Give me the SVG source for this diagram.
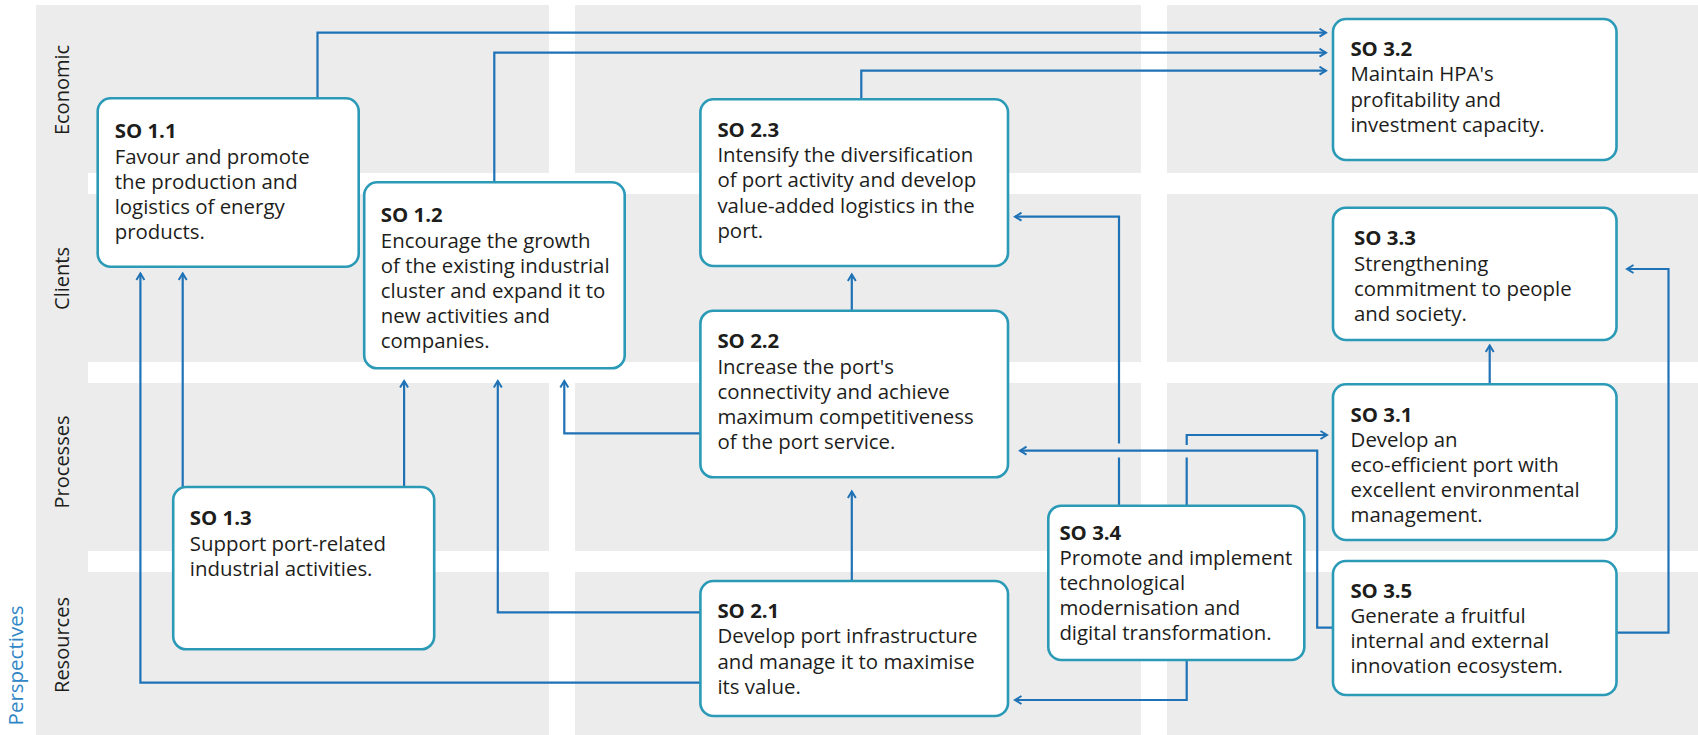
<svg xmlns="http://www.w3.org/2000/svg" width="1698" height="735" viewBox="0 0 1698 735">
<style>
.bg{fill:#ececec}
.gap{fill:#ffffff}
.box{fill:#ffffff;stroke:#2a9ab7;stroke-width:2.6}
.t{font-family:"Open Sans","Noto Sans",sans-serif;font-size:20.4px;fill:#1d1d1b}
.h{font-weight:700}
.lab{font-family:"Open Sans","Noto Sans",sans-serif;font-size:20px;fill:#1d1d1b;text-anchor:middle}
.persp{font-family:"Open Sans","Noto Sans",sans-serif;font-size:20.5px;fill:#2f86c6;text-anchor:middle}
.c{fill:none;stroke:#1f72b6;stroke-width:2.2}
.a{marker-end:url(#arr)}
</style>
<defs>
<marker id="arr" markerUnits="userSpaceOnUse" markerWidth="12" markerHeight="12" viewBox="0 0 12 12" refX="8" refY="5" orient="auto">
<path d="M1.5,1 L8,5 L1.5,9" fill="none" stroke="#1f72b6" stroke-width="2"/>
</marker>
</defs>
<g id="background">
<rect class="bg" x="36" y="5" width="513" height="730"/>
<rect class="bg" x="575" y="5" width="566" height="730"/>
<rect class="bg" x="1167" y="5" width="531" height="730"/>
<rect class="gap" x="88" y="173" width="1610" height="21"/>
<rect class="gap" x="88" y="362" width="1610" height="21"/>
<rect class="gap" x="88" y="551" width="1610" height="21"/>
</g>
<g id="labels">
<text class="persp" transform="translate(23,665.5) rotate(-90)">Perspectives</text>
<text class="lab" transform="translate(69,90) rotate(-90)">Economic</text>
<text class="lab" transform="translate(69,278.5) rotate(-90)">Clients</text>
<text class="lab" transform="translate(69,462) rotate(-90)">Processes</text>
<text class="lab" transform="translate(69,645) rotate(-90)">Resources</text>
</g>
<g id="connectors">
<path class="c a" d="M317.5,98.3 V32.7 H1326"/>
<path class="c a" d="M494.3,182.3 V52.7 H1326"/>
<path class="c a" d="M861.3,99.3 V70.7 H1326"/>
<path class="c a" d="M182.7,487 V273.5"/>
<path class="c a" d="M700.4,682.7 H140.4 V273.5"/>
<path class="c a" d="M404.1,487 V381"/>
<path class="c a" d="M700.4,612.3 H497.8 V381"/>
<path class="c a" d="M700.4,433.3 H564.3 V381"/>
<path class="c a" d="M851.8,310.7 V274.5"/>
<path class="c a" d="M851.8,581 V491.5"/>
<path class="c" d="M1119,505.7 V457.5"/>
<path class="c a" d="M1119,443.5 V216.7 H1015"/>
<path class="c a" d="M1333,627.7 H1317.2 V450.7 H1020"/>
<path class="c" d="M1186.7,505.7 V457.5"/>
<path class="c a" d="M1186.7,445 V435 H1327"/>
<path class="c a" d="M1186.7,660 V700 H1015"/>
<path class="c a" d="M1489.7,384.3 V345.5"/>
<path class="c a" d="M1616.5,632.7 H1668.5 V269 H1627"/>
</g>
<g id="so11">
<rect class="box" x="97.7" y="98.3" width="261" height="168.4" rx="13"/>
<text class="t h" x="114.7" y="137.5">SO 1.1</text>
<text class="t" x="114.7" y="164">Favour and promote</text>
<text class="t" x="114.7" y="189">the production and</text>
<text class="t" x="114.7" y="214">logistics of energy</text>
<text class="t" x="114.7" y="239">products.</text>
</g>
<g id="so12">
<rect class="box" x="364.2" y="182.3" width="260.5" height="186" rx="13"/>
<text class="t h" x="380.8" y="221.7">SO 1.2</text>
<text class="t" x="380.8" y="248.3">Encourage the growth</text>
<text class="t" x="380.8" y="273.3">of the existing industrial</text>
<text class="t" x="380.8" y="298.3">cluster and expand it to</text>
<text class="t" x="380.8" y="323.3">new activities and</text>
<text class="t" x="380.8" y="348.3">companies.</text>
</g>
<g id="so13">
<rect class="box" x="173.2" y="487" width="261" height="162.3" rx="13"/>
<text class="t h" x="189.8" y="525">SO 1.3</text>
<text class="t" x="189.8" y="550.7">Support port-related</text>
<text class="t" x="189.8" y="575.5">industrial activities.</text>
</g>
<g id="so23">
<rect class="box" x="700.4" y="99.3" width="307.6" height="166.7" rx="13"/>
<text class="t h" x="717.4" y="136.7">SO 2.3</text>
<text class="t" x="717.4" y="162.3">Intensify the diversification</text>
<text class="t" x="717.4" y="187.3">of port activity and develop</text>
<text class="t" x="717.4" y="212.7">value-added logistics in the</text>
<text class="t" x="717.4" y="237.7">port.</text>
</g>
<g id="so22">
<rect class="box" x="700.4" y="310.7" width="307.6" height="166.6" rx="13"/>
<text class="t h" x="717.4" y="347.7">SO 2.2</text>
<text class="t" x="717.4" y="373.5">Increase the port's</text>
<text class="t" x="717.4" y="398.5">connectivity and achieve</text>
<text class="t" x="717.4" y="423.5">maximum competitiveness</text>
<text class="t" x="717.4" y="448.5">of the port service.</text>
</g>
<g id="so21">
<rect class="box" x="700.4" y="581" width="307.6" height="135" rx="13"/>
<text class="t h" x="717.4" y="618.3">SO 2.1</text>
<text class="t" x="717.4" y="643.3">Develop port infrastructure</text>
<text class="t" x="717.4" y="669">and manage it to maximise</text>
<text class="t" x="717.4" y="694.3">its value.</text>
</g>
<g id="so34">
<rect class="box" x="1048.3" y="505.7" width="256" height="154.3" rx="13"/>
<text class="t h" x="1059.4" y="540">SO 3.4</text>
<text class="t" x="1059.4" y="565">Promote and implement</text>
<text class="t" x="1059.4" y="590">technological</text>
<text class="t" x="1059.4" y="615">modernisation and</text>
<text class="t" x="1059.4" y="640">digital transformation.</text>
</g>
<g id="so32">
<rect class="box" x="1333" y="19" width="283.5" height="141" rx="13"/>
<text class="t h" x="1350.4" y="56">SO 3.2</text>
<text class="t" x="1350.4" y="81">Maintain HPA's</text>
<text class="t" x="1350.4" y="106.5">profitability and</text>
<text class="t" x="1350.4" y="132">investment capacity.</text>
</g>
<g id="so33">
<rect class="box" x="1333" y="207.7" width="283.5" height="132.3" rx="13"/>
<text class="t h" x="1354" y="245">SO 3.3</text>
<text class="t" x="1354" y="270.7">Strengthening</text>
<text class="t" x="1354" y="296">commitment to people</text>
<text class="t" x="1354" y="321">and society.</text>
</g>
<g id="so31">
<rect class="box" x="1333" y="384.3" width="283.5" height="155.7" rx="13"/>
<text class="t h" x="1350.6" y="421.5">SO 3.1</text>
<text class="t" x="1350.6" y="447">Develop an</text>
<text class="t" x="1350.6" y="472">eco-efficient port with</text>
<text class="t" x="1350.6" y="497">excellent environmental</text>
<text class="t" x="1350.6" y="522">management.</text>
</g>
<g id="so35">
<rect class="box" x="1333" y="561" width="283.5" height="134" rx="13"/>
<text class="t h" x="1350.4" y="597.7">SO 3.5</text>
<text class="t" x="1350.4" y="623.3">Generate a fruitful</text>
<text class="t" x="1350.4" y="648.3">internal and external</text>
<text class="t" x="1350.4" y="673.3">innovation ecosystem.</text>
</g>
</svg>
